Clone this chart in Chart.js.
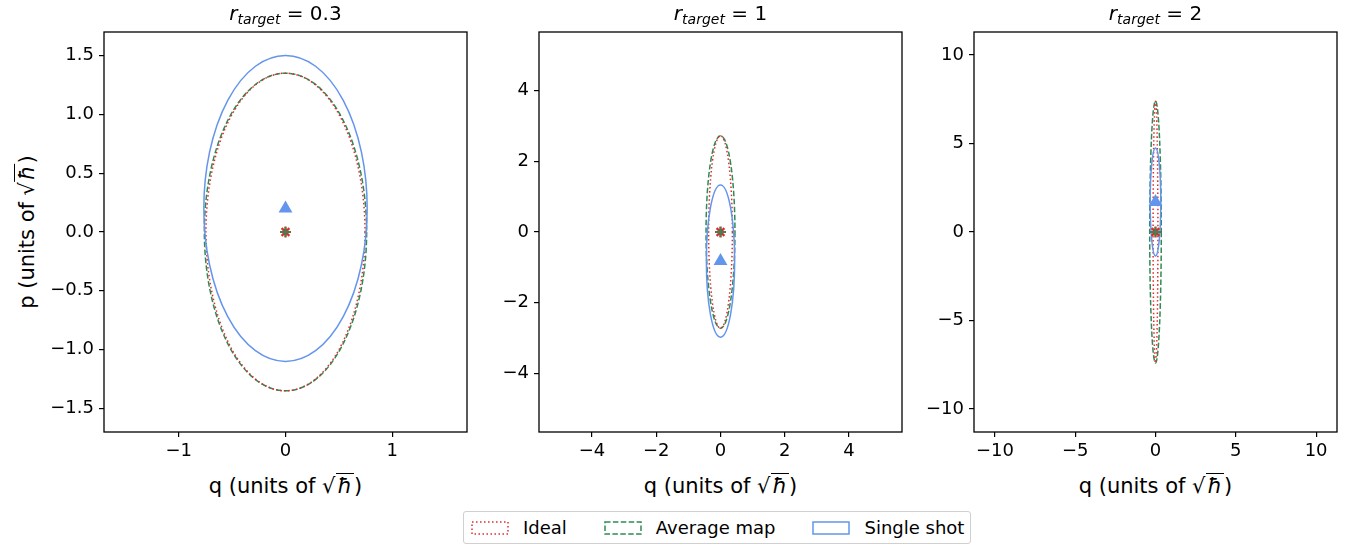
<!DOCTYPE html>
<html>
<head>
<meta charset="utf-8">
<script src="https://cdn.jsdelivr.net/npm/chart.js@4/dist/chart.umd.min.js"></script>
<style>
  body { margin:0; width:1356px; height:545px; background:#fff; position:relative; overflow:hidden;
         font-family:"DejaVu Sans", sans-serif; color:#000; }
  canvas.panel { position:absolute; }
  .title { position:absolute; top:1px; width:363px; text-align:center; font-size:20px; }
  .title sub { font-size:14px; vertical-align:-4px; }
  .xlab { position:absolute; top:474px; width:363px; text-align:center; font-size:21px; white-space:nowrap; }
  .ylab { position:absolute; left:27px; top:232px; font-size:21px; white-space:nowrap;
          transform:translate(-50%,-50%) rotate(-90deg); }
  .hbar { border-top:1.3px solid #000; font-style:italic; padding:0 2px; }
  #legend { position:absolute; left:463px; top:511px; height:31px; border:1px solid #d0d0d0; border-radius:3px;
            display:flex; align-items:center; padding:0 6px 0 7px; font-size:18px; background:#fff; }
  #legend svg { margin-right:14px; }
  #legend .item { display:flex; align-items:center; margin-right:37px; }
  #legend .item:last-child { margin-right:0; }
</style>
</head>
<body>
<script>
// panel titles (r_target) and axis ranges
var rTargets = ['0.3', '1', '2'];
var axisLimits = [1.7, 5.65, 11.3];
var xTicks = [[-1, 0, 1], [-4, -2, 0, 2, 4], [-10, -5, 0, 5, 10]];
var yTicks = [[-1.5, -1.0, -0.5, 0.0, 0.5, 1.0, 1.5], [-4, -2, 0, 2, 4], [-10, -5, 0, 5, 10]];
var yDecimals = [1, 0, 0];

// ellipses: centre (q, p) and semi-axes along q and p
var idealCenterP = [0, 0, 0];
var idealSemiQ = [0.745, 0.37, 0.15];
var idealSemiP = [1.35, 2.72, 7.39];

var averageCenterP = [0, 0, 0];
var averageSemiQ = [0.76, 0.45, 0.36];
var averageSemiP = [1.35, 2.72, 7.40];

var shotCenterP = [0.20, -0.82, 1.70];
var shotSemiQ = [0.765, 0.44, 0.33];
var shotSemiP = [1.30, 2.15, 3.05];

var colIdeal = '#e02b2b';
var colAverage = '#2e8b57';
var colShot = '#6495ed';

var plotLefts = [104, 539, 974];

function fmt(v, d) {
    var s = Math.abs(v).toFixed(d);
    return (v < 0 ? '\u2212' : '') + s;
}

function noPad(s) {
    s.paddingTop = 0; s.paddingBottom = 0; s.paddingLeft = 0; s.paddingRight = 0;
}

/* ellipses drawn through the chart scales, under the markers */
var ellipsePlugin = {
    id: 'ellipses',
    beforeDatasetsDraw: function (chart) {
        var i = chart.options.panelIndex;
        var xs = chart.scales.x, ys = chart.scales.y, ctx = chart.ctx;
        var list = [
            [0, averageCenterP[i], averageSemiQ[i], averageSemiP[i], colAverage, [5.5, 2.4]],
            [0, idealCenterP[i], idealSemiQ[i], idealSemiP[i], colIdeal, [1.5, 2.5]],
            [0, shotCenterP[i], shotSemiQ[i], shotSemiP[i], colShot, []]
        ];
        ctx.save();
        ctx.beginPath();
        ctx.rect(chart.chartArea.left, chart.chartArea.top, chart.chartArea.width, chart.chartArea.height);
        ctx.clip();
        list.forEach(function (e) {
            var cx = xs.getPixelForValue(e[0]);
            var cy = ys.getPixelForValue(e[1]);
            var rx = Math.abs(xs.getPixelForValue(e[0] + e[2]) - cx);
            var ry = Math.abs(ys.getPixelForValue(e[1] + e[3]) - cy);
            ctx.beginPath();
            ctx.ellipse(cx, cy, rx, ry, 0, 0, Math.PI * 2);
            ctx.strokeStyle = e[4];
            ctx.lineWidth = 1.5;
            ctx.setLineDash(e[5]);
            ctx.stroke();
        });
        ctx.restore();
    },
    afterDraw: function (chart) {
        var a = chart.chartArea, ctx = chart.ctx;
        ctx.save();
        ctx.strokeStyle = '#000';
        ctx.lineWidth = 1.3;
        ctx.strokeRect(a.left, a.top, a.right - a.left, a.bottom - a.top);
        ctx.restore();
    }
};

function makePanel(i) {
    var L = plotLefts[i];
    var cv = document.createElement('canvas');
    cv.className = 'panel';
    cv.width = 431; cv.height = 442;
    cv.style.left = (L - 60) + 'px';
    cv.style.top = '26px';
    document.body.appendChild(cv);

    var t = document.createElement('div');
    t.className = 'title';
    t.style.left = L + 'px';
    t.innerHTML = '<i>r</i><sub><i>target</i></sub> = ' + rTargets[i];
    document.body.appendChild(t);

    var xl = document.createElement('div');
    xl.className = 'xlab';
    xl.style.left = L + 'px';
    xl.innerHTML = 'q (units of \u221A<span class="hbar">\u0127</span>)';
    document.body.appendChild(xl);

    var lim = axisLimits[i];
    new Chart(cv, {
        type: 'scatter',
        data: {
            datasets: [
                { data: [{ x: 0, y: shotCenterP[i] }], pointStyle: 'triangle', pointRadius: 8, order: 2,
                  backgroundColor: colShot, borderColor: colShot, borderWidth: 0 },
                { data: [{ x: 0, y: idealCenterP[i] }], pointStyle: 'star', pointRadius: 5.5, order: 1,
                  borderColor: colIdeal, borderWidth: 2.2 },
                { data: [{ x: 0, y: averageCenterP[i] }], pointStyle: 'cross', pointRadius: 5, order: 0,
                  borderColor: colAverage, borderWidth: 1.8 }
            ]
        },
        options: {
            panelIndex: i,
            responsive: false,
            animation: false,
            events: [],
            layout: { autoPadding: false, padding: { top: 6, right: 8, left: 0, bottom: 0 } },
            plugins: { legend: { display: false }, tooltip: { enabled: false } },
            scales: {
                x: {
                    type: 'linear', min: -lim, max: lim,
                    afterBuildTicks: function (s) { s.ticks = xTicks[i].map(function (v) { return { value: v }; }); },
                    afterFit: function (s) { s.height = 36; noPad(s); },
                    ticks: { color: '#000', font: { family: 'DejaVu Sans', size: 18 }, padding: 4, maxRotation: 0,
                             callback: function (v) { return fmt(v, 0); } },
                    grid: { drawOnChartArea: false, tickLength: 5, color: '#000', lineWidth: 1.2 },
                    border: { display: false }
                },
                y: {
                    type: 'linear', min: -lim, max: lim,
                    afterBuildTicks: function (s) { s.ticks = yTicks[i].map(function (v) { return { value: v }; }); },
                    afterFit: function (s) { s.width = 60; noPad(s); },
                    ticks: { color: '#000', font: { family: 'DejaVu Sans', size: 18 }, padding: 5,
                             callback: function (v) { return fmt(v, yDecimals[i]); } },
                    grid: { drawOnChartArea: false, tickLength: 5, color: '#000', lineWidth: 1.2 },
                    border: { display: false }
                }
            }
        },
        plugins: [ellipsePlugin]
    });
}

for (var i = 0; i < 3; i++) makePanel(i);

var yl = document.createElement('div');
yl.className = 'ylab';
yl.innerHTML = 'p (units of \u221A<span class="hbar">\u0127</span>)';
document.body.appendChild(yl);

// legend
var legendItems = [
    ['Ideal', colIdeal, '1.5,2.5'],
    ['Average map', colAverage, '5.5,2.4'],
    ['Single shot', colShot, 'none']
];
var lg = document.createElement('div');
lg.id = 'legend';
lg.innerHTML = legendItems.map(function (it) {
    return '<div class="item"><svg width="38" height="14"><rect x="1" y="1" width="36" height="12" fill="none" stroke="' +
        it[1] + '" stroke-width="1.5" stroke-dasharray="' + it[2] + '"/></svg><span>' + it[0] + '</span></div>';
}).join('');
document.body.appendChild(lg);
</script>
</body>
</html>
